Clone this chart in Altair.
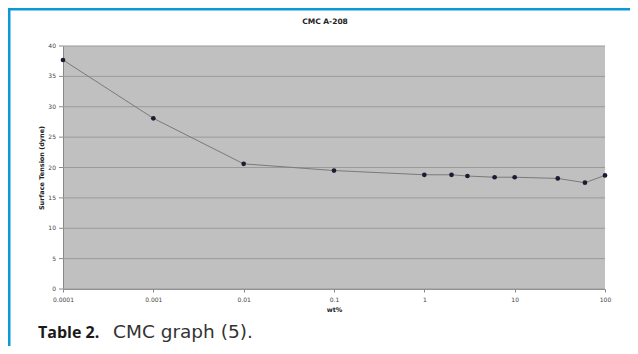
import altair as alt
import pandas as pd

# Data
conc = [0.0001, 0.001, 0.01, 0.1, 1, 2, 3, 6, 10, 30, 60, 100]
tension = [37.7, 28.1, 20.6, 19.5, 18.8, 18.8, 18.6, 18.4, 18.4, 18.2, 17.5, 18.7]
x_ticks = [0.0001, 0.001, 0.01, 0.1, 1, 10, 100]
y_ticks = [0, 5, 10, 15, 20, 25, 30, 35, 40]

df = pd.DataFrame({"wt": conc, "st": tension})
ydf = pd.DataFrame({"st": y_ticks, "lab": [str(v) for v in y_ticks]})
one = pd.DataFrame({"a": [0]})

W, H = 542, 243

yscale = alt.Scale(domain=[0, 40], nice=False)

x_enc = alt.X("wt:Q", title="wt%",
              scale=alt.Scale(type="log", domain=[0.0001, 100], nice=False),
              axis=alt.Axis(values=x_ticks, format="~g", grid=False,
                            labelFontSize=6, labelColor="#444", tickSize=3,
                            tickColor="#888", domainColor="#888",
                            titleFontSize=6.5, titleFontWeight="bold",
                            titleColor="#222", labelPadding=4, titlePadding=4,
                            labelFlush=False))
y_enc = alt.Y("st:Q", title="Surface Tension (dyne)", scale=yscale,
              axis=alt.Axis(grid=False, labels=False, ticks=False,
                            domainColor="#888",
                            titleFontSize=6.5, titleFontWeight="bold",
                            titleColor="#222", titlePadding=19))

grid = alt.Chart(ydf).mark_rule(color="#9a9a9a", strokeWidth=1).encode(
    y=alt.Y("st:Q", scale=yscale), x=alt.value(0), x2=alt.value(W))
yticks = alt.Chart(ydf).mark_rule(color="#888", strokeWidth=1).encode(
    y=alt.Y("st:Q", scale=yscale), x=alt.value(-4), x2=alt.value(0))
ylabels = alt.Chart(ydf).mark_text(fontSize=6, color="#444", align="right",
                                   baseline="middle", font="DejaVu Sans").encode(
    y=alt.Y("st:Q", scale=yscale), x=alt.value(-7), text="lab:N")

line = alt.Chart(df).mark_line(color="#7a7a7a", strokeWidth=1).encode(
    x=x_enc, y=y_enc)
pts = alt.Chart(df).mark_point(filled=True, size=22, color="#1c1c30",
                               opacity=1).encode(x=x_enc, y=y_enc)

top_border = alt.Chart(one).mark_rule(color="#0c9ad7", strokeWidth=3).encode(
    x=alt.value(-56), x2=alt.value(W + 40), y=alt.value(-37))
left_border = alt.Chart(one).mark_rule(color="#0c9ad7", strokeWidth=3).encode(
    x=alt.value(-54), y=alt.value(-38), y2=alt.value(H + 70))

title = alt.Chart(one).mark_text(text="CMC A-208", fontSize=7.5,
                                 fontWeight="bold", color="#222",
                                 font="DejaVu Sans").encode(
    x=alt.value(262), y=alt.value(-24))
cap1 = alt.Chart(one).mark_text(text="Table 2.", fontSize=16,
                                fontWeight="bold", color="#1a1a1a",
                                align="left", baseline="alphabetic",
                                font="Open Sans").encode(
    x=alt.value(-25), y=alt.value(292))
cap2 = alt.Chart(one).mark_text(text="CMC graph (5).", fontSize=18.5,
                                color="#333", align="left",
                                baseline="alphabetic",
                                font="DejaVu Sans").encode(
    x=alt.value(50), y=alt.value(292))

chart = alt.layer(grid, yticks, ylabels, line, pts, top_border, left_border,
                  title, cap1, cap2).properties(
    width=W, height=H,
    autosize=alt.AutoSizeParams(type="none"),
    padding={"left": 55, "top": 38, "right": 25, "bottom": 57},
    background="white",
).configure_view(fill="#c0c0c0", stroke=None).configure_axis(
    labelFont="DejaVu Sans", titleFont="DejaVu Sans")

chart.save("out.html", embed_options={"renderer": "svg", "actions": False})
